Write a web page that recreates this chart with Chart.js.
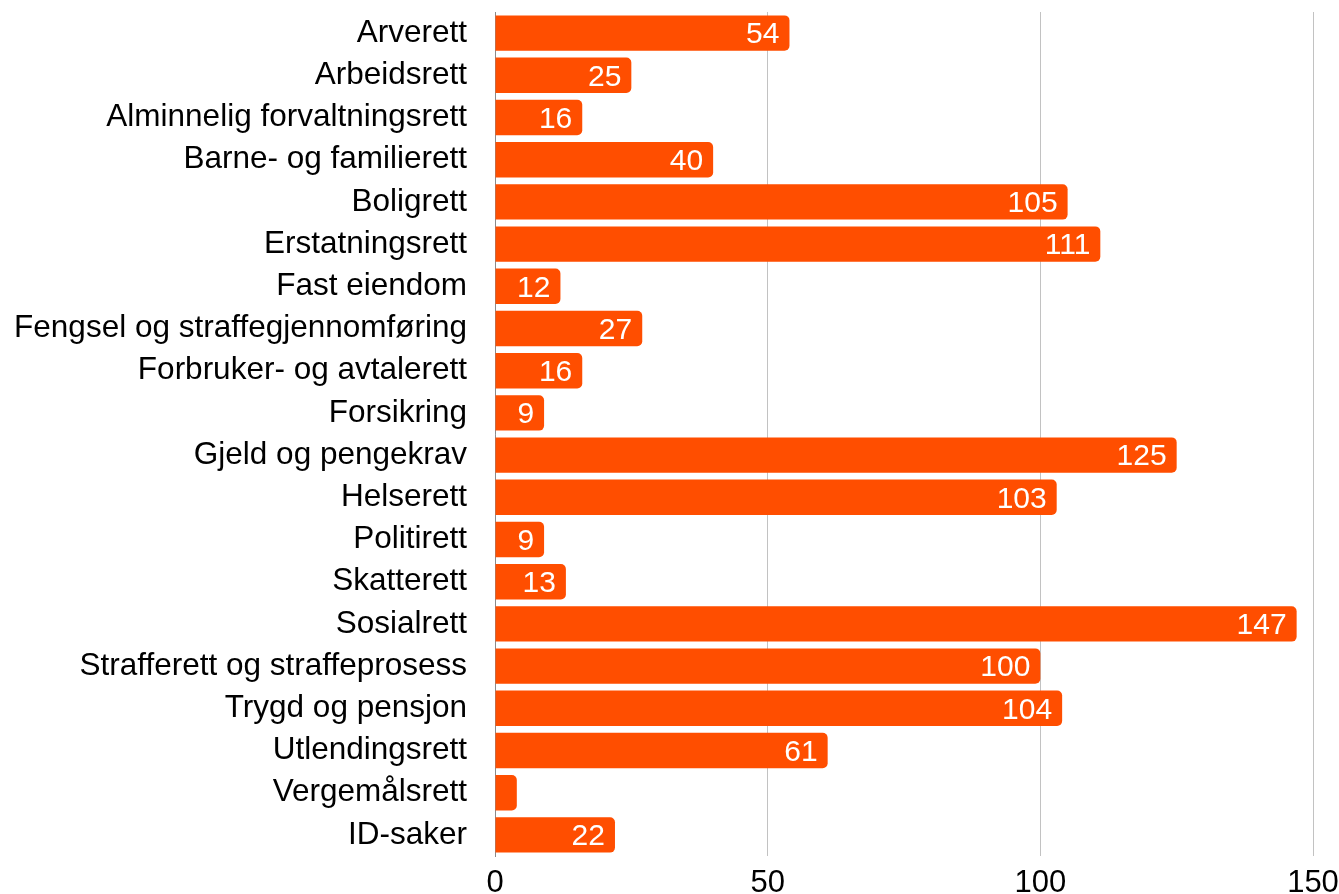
<!DOCTYPE html>
<html>
<head>
<meta charset="utf-8">
<script src="https://cdn.jsdelivr.net/npm/chart.js@4"></script>
<style>
html,body{margin:0;padding:0;background:#fff;}
#wrap{width:1339px;height:894px;position:relative;}
</style>
</head>
<body>
<div id="wrap"><canvas id="c" width="1339" height="894"></canvas></div>
<script>
const categories = ["Arverett","Arbeidsrett","Alminnelig forvaltningsrett","Barne- og familierett","Boligrett","Erstatningsrett","Fast eiendom","Fengsel og straffegjennomføring","Forbruker- og avtalerett","Forsikring","Gjeld og pengekrav","Helserett","Politirett","Skatterett","Sosialrett","Strafferett og straffeprosess","Trygd og pensjon","Utlendingsrett","Vergemålsrett","ID-saker"];
const values = [54,25,16,40,105,111,12,27,16,9,125,103,9,13,147,100,104,61,4,22];
const xTicks = [0,50,100,150];

const FONT = "'Liberation Sans', Arial, sans-serif";

const valueLabels = {
  id: 'valueLabels',
  afterDatasetsDraw(chart) {
    const ctx = chart.ctx;
    const meta = chart.getDatasetMeta(0);
    ctx.save();
    ctx.fillStyle = '#ffffff';
    ctx.font = '30px ' + FONT;
    ctx.textAlign = 'right';
    ctx.textBaseline = 'middle';
    meta.data.forEach((bar, i) => {
      const v = values[i];
      if (v < 5) return;
      ctx.fillText(String(v), bar.x - 10, bar.y + 2);
    });
    ctx.restore();
  }
};

new Chart(document.getElementById('c'), {
  type: 'bar',
  data: {
    labels: categories,
    datasets: [{
      data: values,
      backgroundColor: 'rgb(255,78,0)',
      borderRadius: 5,
      borderSkipped: 'start',
      categoryPercentage: 1,
      barPercentage: 0.84
    }]
  },
  options: {
    indexAxis: 'y',
    responsive: false,
    animation: false,
    devicePixelRatio: 1,
    layout: { padding: { top: 12, right: 26, bottom: 0, left: 0 } },
    plugins: { legend: { display: false }, tooltip: { enabled: false } },
    scales: {
      x: {
        min: 0, max: 150,
        afterBuildTicks(scale) { scale.ticks = xTicks.map(v => ({ value: v })); },
        afterFit(scale) { scale.height = 38; scale.paddingLeft = 0; scale.paddingRight = 0; },
        grid: { color: '#c2c2c2', lineWidth: 1, drawTicks: false },
        border: { display: false },
        ticks: { color: '#000', font: { size: 31, family: FONT }, padding: 9, maxRotation: 0 }
      },
      y: {
        afterFit(scale) { scale.width = 495; scale.paddingTop = 0; scale.paddingBottom = 0; },
        grid: { display: false, drawTicks: false },
        border: { display: true, color: '#8a8a8a', width: 1 },
        ticks: { color: '#000', font: { size: 31.5, family: FONT }, padding: 28, autoSkip: false }
      }
    }
  },
  plugins: [valueLabels]
});
</script>
</body>
</html>
